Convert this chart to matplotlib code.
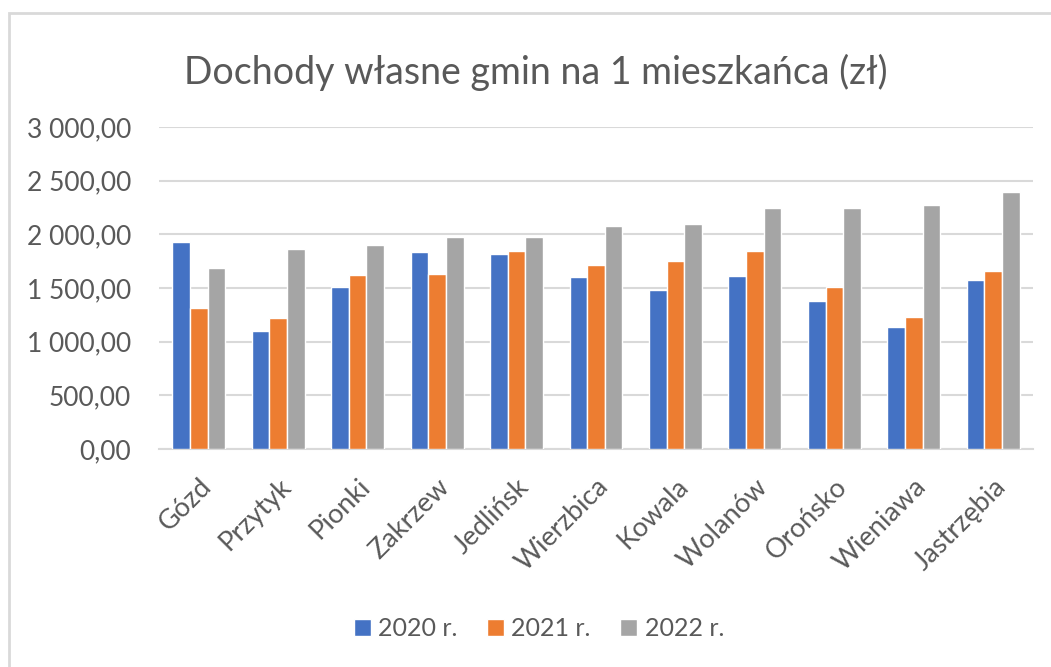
import matplotlib
matplotlib.use("Agg")
import matplotlib.pyplot as plt
import numpy as np
from matplotlib.ticker import FuncFormatter, MultipleLocator
from matplotlib.patches import Rectangle, Patch

categories = ["Gózd", "Przytyk", "Pionki", "Zakrzew", "Jedlińsk", "Wierzbica",
              "Kowala", "Wolanów", "Orońsko", "Wieniawa", "Jastrzębia"]
series_names = ["2020 r.", "2021 r.", "2022 r."]
v2020 = [1928, 1097, 1507, 1835, 1820, 1603, 1479, 1615, 1383, 1138, 1575]
v2021 = [1314, 1218, 1618, 1630, 1847, 1711, 1751, 1847, 1507, 1234, 1655]
v2022 = [1683, 1863, 1903, 1971, 1971, 2080, 2096, 2244, 2244, 2272, 2396]
colors = ["#4472C4", "#ED7D31", "#A5A5A5"]

plt.rcParams['font.family'] = ['Lato', 'DejaVu Sans']
txt = "#595959"

W, H = 1051, 667
fig = plt.figure(figsize=(W/100, H/100), dpi=100)
ax = fig.add_axes([159/W, 1-449/H, (1033-159)/W, (449-127)/H])

x = np.arange(len(categories))
bw = 0.222
for i, (vals, c, name) in enumerate(zip([v2020, v2021, v2022], colors, series_names)):
    ax.bar(x + (i-1)*bw, vals, width=bw, color=c, edgecolor="white", linewidth=1.0,
           label=name, zorder=3)

ax.set_xlim(-0.5, len(categories)-0.5)
ax.set_ylim(0, 3000)
ax.yaxis.set_major_locator(MultipleLocator(500))

def fmt(v, pos):
    s = f"{v:,.2f}".replace(",", " ").replace(".", ",")
    return s
ax.yaxis.set_major_formatter(FuncFormatter(fmt))
ax.grid(axis='y', color="#D9D9D9", linewidth=1.5, zorder=0)
for s in ["top", "right", "left"]:
    ax.spines[s].set_visible(False)
ax.spines["bottom"].set_color("#D9D9D9")
ax.spines["bottom"].set_linewidth(1.5)
ax.tick_params(axis='y', length=0, pad=20, labelsize=19, labelcolor=txt)
ax.tick_params(axis='x', length=0, pad=18, labelsize=19.5, labelcolor=txt)
ax.set_xticks(x)
ax.set_xticklabels(categories, rotation=45, ha='right', rotation_mode='anchor')

fig.text(536/W, 1-72/H, "Dochody własne gmin na 1 mieszkańca (zł)", ha='center', va='center',
         fontsize=27, color=txt)

handles = [Patch(facecolor=c, edgecolor='white') for c in colors]
fig.legend(handles, series_names, loc='center', bbox_to_anchor=(539/W, 1-629/H), ncol=3,
           frameon=False, fontsize=18, labelcolor=txt, handlelength=0.67, handleheight=0.67,
           handletextpad=0.3, columnspacing=1.18)

fig.patches.append(Rectangle((9/W, -0.05), 1.2, (667-13)/H + 0.05, transform=fig.transFigure,
                             fill=False, edgecolor="#D9D9D9", linewidth=2))

fig.savefig("out.png", dpi=100, facecolor="white")
